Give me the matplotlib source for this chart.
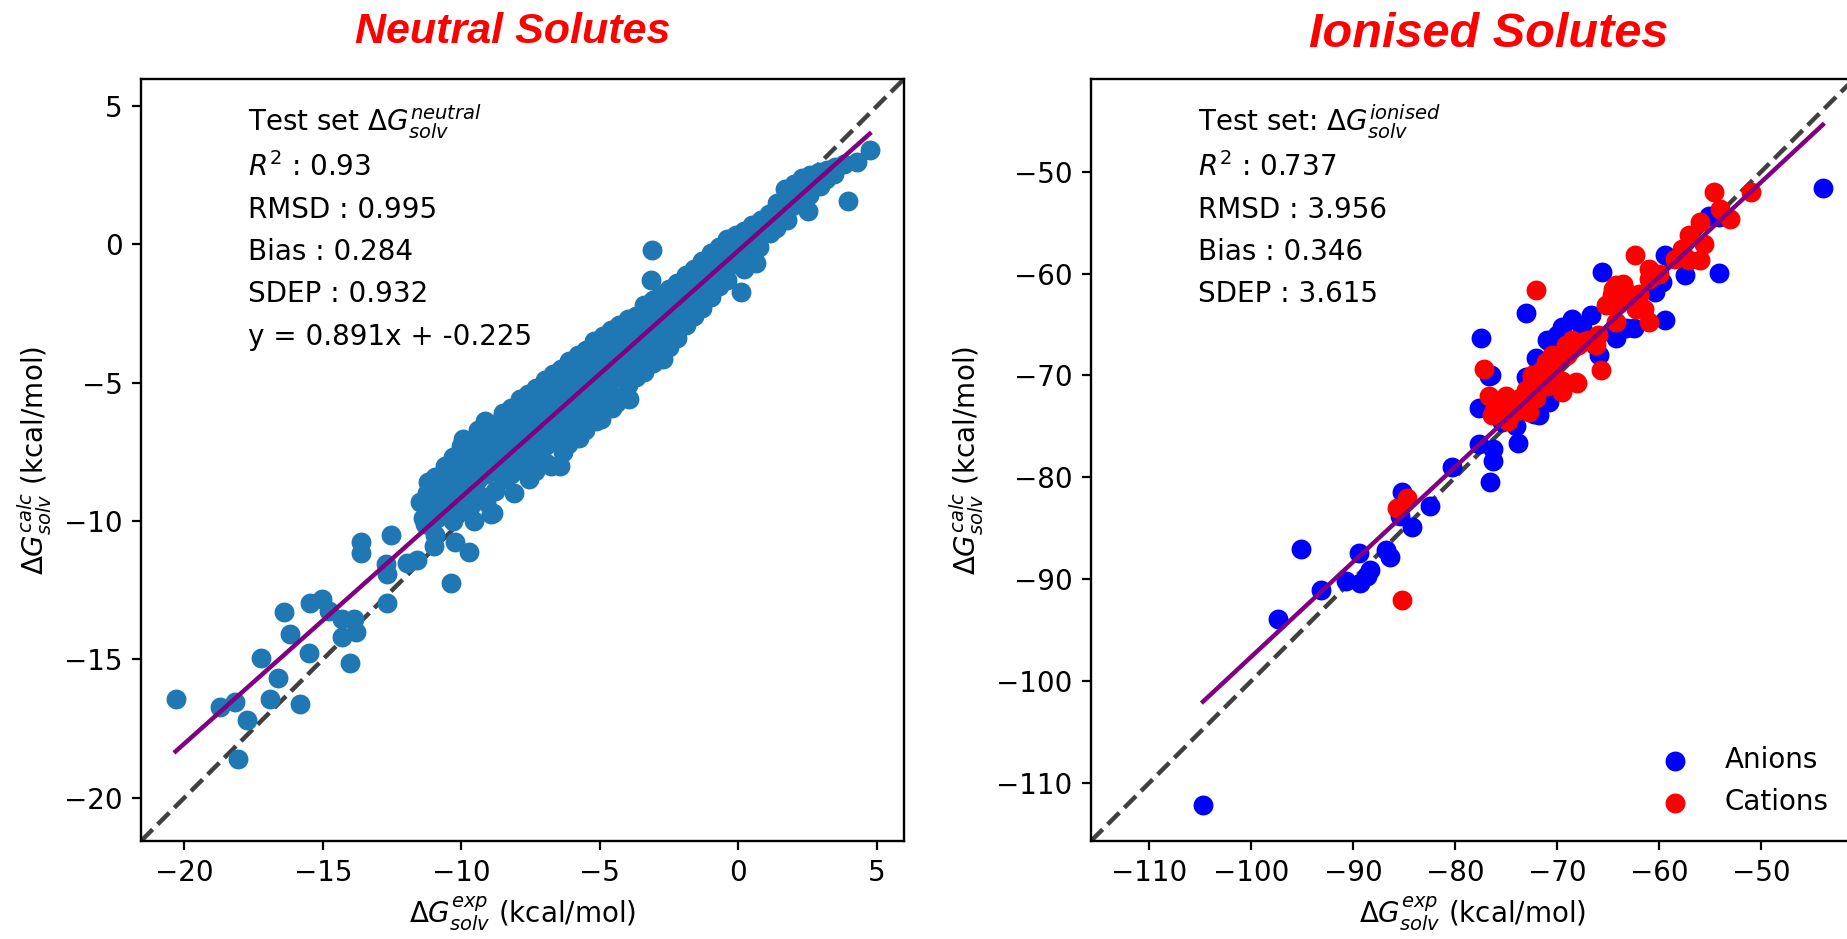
import matplotlib.pyplot as plt

# ---------------- neutral solutes ----------------
# isolated points (experimental, calculated)
neutral_exp_out = [-20.32, -18.73, -18.18, -17.73, -18.07, -17.22, -16.92, -16.61, -16.41, -16.20,
                   -15.84, -15.50, -15.48, -15.02, -14.78, -14.30, -13.88, -13.82, -14.30, -14.02,
                   -13.64, -13.64, -12.68, -12.74, -12.70, -12.53, -11.95, -11.62, -10.99, -10.39,
                   -10.23, -9.73, -8.95, -9.55, -9.16, -9.95, -8.86, -6.45, -4.41, -2.72,
                   -3.11, -3.15, 0.64, 0.10, 2.51, 3.95, 4.74, 4.29]
neutral_calc_out = [-16.42, -16.71, -16.53, -17.19, -18.59, -14.96, -16.42, -15.69, -13.29, -14.09,
                    -16.62, -14.78, -12.97, -12.83, -13.25, -13.53, -13.55, -14.03, -14.21, -15.12,
                    -10.76, -11.14, -12.97, -11.56, -11.92, -10.51, -11.53, -11.42, -10.92, -12.25,
                    -10.76, -11.12, -9.76, -10.00, -6.38, -7.05, -9.70, -8.01, -5.72, -4.15,
                    -0.20, -1.29, -0.69, -1.71, 1.21, 1.57, 3.41, 2.99]

# dense band of points along the diagonal
neutral_exp_band = [
    -11.50, -11.40,
    -11.20, -11.25, -11.15, -11.30,
    -10.95, -10.90, -10.85, -10.90, -10.95,
    -10.60, -10.65, -10.55, -10.60,
    -10.30, -10.25, -10.35, -10.30, -10.30,
    -10.00, -9.95, -10.05, -10.00, -9.95,
    -9.70, -9.75, -9.65, -9.70,
    -9.40, -9.45, -9.35, -9.40, -9.45,
    -9.10, -9.05, -9.15, -9.10, -9.10,
    -8.80, -8.85, -8.75, -8.80, -8.80,
    -8.50, -8.55, -8.45, -8.50, -8.50,
    -8.20, -8.15, -8.25, -8.20, -8.20, -8.10,
    -7.90, -7.95, -7.85, -7.90, -7.90,
    -7.60, -7.55, -7.65, -7.60, -7.60, -7.55,
    -7.30, -7.35, -7.25, -7.30, -7.30, -7.35,
    -7.00, -6.95, -7.05, -7.00, -7.00, -6.95,
    -6.70, -6.75, -6.65, -6.70, -6.70, -6.75,
    -6.40, -6.35, -6.45, -6.40, -6.40, -6.35,
    -6.10, -6.15, -6.05, -6.10, -6.10, -6.15,
    -5.80, -5.75, -5.85, -5.80, -5.80, -5.75,
    -5.50, -5.55, -5.45, -5.50, -5.50, -5.55,
    -5.20, -5.15, -5.25, -5.20, -5.20, -5.15,
    -4.90, -4.95, -4.85, -4.90, -4.90, -4.95,
    -4.60, -4.55, -4.65, -4.60, -4.60, -4.55,
    -4.30, -4.35, -4.25, -4.30, -4.30,
    -4.00, -3.95, -4.05, -4.00, -4.00, -3.95,
    -3.70, -3.75, -3.65, -3.70, -3.70,
    -3.40, -3.35, -3.45, -3.40, -3.40,
    -3.10, -3.15, -3.05, -3.10, -3.10,
    -2.80, -2.75, -2.85, -2.80, -2.80,
    -2.50, -2.55, -2.45, -2.50, -2.50,
    -2.20, -2.15, -2.25, -2.20, -2.20,
    -1.90, -1.95, -1.85, -1.90,
    -1.60, -1.55, -1.65, -1.60,
    -1.30, -1.35, -1.25, -1.30,
    -1.00, -0.95, -1.05, -1.00,
    -0.70, -0.75, -0.65, -0.70,
    -0.40, -0.35, -0.45, -0.40,
    -0.10, -0.15, -0.05,
    0.20, 0.25, 0.15, 0.20,
    0.50, 0.45, 0.55,
    0.80, 0.85, 0.75,
    1.10, 1.05, 1.15,
    1.40, 1.45, 1.35,
    1.70, 1.65, 1.75,
    2.00, 2.05, 1.95,
    2.30, 2.25, 2.35,
    2.60, 2.65, 2.55,
    2.90, 2.85, 2.95,
    3.20, 3.25, 3.15,
    3.50, 3.45,
    3.80,
]
neutral_calc_band = [
    -9.30, -9.90,
    -8.60, -9.00, -9.60, -10.10,
    -8.40, -8.90, -9.40, -9.90, -10.50,
    -8.00, -8.60, -9.20, -9.70,
    -7.70, -8.30, -8.80, -9.40, -10.00,
    -7.30, -7.90, -8.50, -9.10, -9.60,
    -7.60, -8.20, -8.80, -9.50,
    -6.70, -7.30, -7.90, -8.50, -9.00,
    -6.60, -7.10, -7.70, -8.30, -9.30,
    -6.50, -7.00, -7.60, -8.20, -8.90,
    -6.10, -6.70, -7.30, -7.90, -8.50,
    -5.90, -6.50, -7.10, -7.70, -8.30, -9.00,
    -5.60, -6.20, -6.80, -7.40, -8.00,
    -5.40, -6.00, -6.60, -7.20, -7.80, -8.50,
    -5.20, -5.80, -6.40, -7.00, -7.60, -8.20,
    -4.90, -5.50, -6.10, -6.70, -7.30, -7.90,
    -4.70, -5.30, -5.90, -6.50, -7.10, -8.00,
    -4.50, -5.10, -5.70, -6.30, -6.90, -7.50,
    -4.20, -4.80, -5.40, -6.00, -6.60, -7.20,
    -4.00, -4.60, -5.20, -5.80, -6.40, -7.00,
    -3.80, -4.40, -5.00, -5.60, -6.20, -6.70,
    -3.50, -4.10, -4.70, -5.30, -5.90, -6.40,
    -3.30, -3.90, -4.50, -5.10, -5.70, -6.30,
    -3.10, -3.70, -4.30, -4.90, -5.50, -5.90,
    -2.90, -3.50, -4.10, -4.70, -5.50,
    -2.70, -3.30, -3.90, -4.50, -5.10, -5.60,
    -2.60, -3.00, -3.60, -4.20, -4.80,
    -2.20, -2.80, -3.40, -4.00, -4.60,
    -2.00, -2.60, -3.20, -3.80, -4.30,
    -1.80, -2.40, -3.00, -3.50, -3.90,
    -1.60, -2.10, -2.70, -3.20, -3.70,
    -1.40, -1.90, -2.50, -3.00, -3.40,
    -1.10, -1.70, -2.30, -2.90,
    -0.90, -1.40, -2.00, -2.60,
    -0.60, -1.20, -1.80, -2.30,
    -0.30, -0.90, -1.40, -1.90,
    -0.10, -0.60, -1.10, -1.50,
    0.20, -0.30, -0.80, -1.30,
    0.35, -0.20, -0.70,
    0.50, 0.00, -0.50, -0.90,
    0.70, 0.20, -0.30,
    0.90, 0.40, -0.10,
    1.10, 0.70, 0.40,
    1.50, 1.00, 0.60,
    2.00, 1.40, 0.90,
    2.20, 1.80, 1.40,
    2.40, 2.00, 1.60,
    2.50, 2.20, 1.80,
    2.60, 2.40, 2.10,
    2.70, 2.50, 2.35,
    2.80, 2.55,
    2.90,
]
neutral_fit = (0.891, -0.225)
neutral_lim = (-21.57, 5.98)
neutral_ticks = [-20, -15, -10, -5, 0, 5]
neutral_text = ["Test set $\\Delta G_{solv}^{neutral}$", "$R^2$ : 0.93", "RMSD : 0.995",
                "Bias : 0.284", "SDEP : 0.932", "y = 0.891x + -0.225"]

# ---------------- ionised solutes ----------------
anion_exp = [-104.72, -97.35, -95.07, -93.20, -90.70, -89.30, -89.46, -88.31, -88.60, -86.75,
             -86.36, -85.22, -85.38, -84.24, -82.45, -80.33, -76.58, -77.65, -76.28, -76.28,
             -77.65, -76.67, -77.49, -73.08, -73.80, -75.40, -74.00, -72.30, -76.51,
             -69.50, -68.52, -66.73, -67.54, -70.48, -65.91, -72.10, -73.08, -70.80, -71.78,
             -71.00, -70.00, -66.30, -65.58, -63.30, -62.49, -64.60, -64.28, -59.39,
             -60.37, -59.71, -57.43, -54.17, -59.39, -55.15, -54.17, -43.96]
anion_calc = [-112.20, -93.93, -87.08, -91.10, -90.21, -90.37, -87.41, -89.14, -89.70, -87.18,
              -87.83, -81.47, -83.75, -84.90, -82.78, -79.02, -80.43, -76.74, -77.23, -78.37,
              -73.15, -70.06, -66.30, -63.86, -76.64, -74.60, -75.00, -73.80, -69.96,
              -65.20, -64.41, -64.09, -65.39, -67.02, -68.00, -68.33, -70.12, -72.57, -73.87,
              -66.50, -66.00, -67.00, -59.88, -65.39, -65.39, -65.72, -66.37, -64.58,
              -61.80, -60.83, -60.17, -59.91, -58.22, -54.30, -54.47, -51.63]

cation_exp = [-85.22, -85.71, -84.73, -77.16, -72.10,
              -76.70, -75.80, -75.00, -74.00, -74.80, -76.20, -73.60, -75.70, -74.70, -76.35,
              -72.50, -71.50, -70.30, -71.00, -69.50, -72.00, -70.50,
              -68.03, -65.75, -68.19, -72.43, -70.80, -69.17, -67.54, -66.24, -69.80, -71.13,
              -70.80, -69.50, -72.10, -73.08, -72.76, -73.74,
              -68.00, -67.00, -66.00, -69.00, -68.50,
              -62.33, -64.50, -63.50, -63.00, -64.00, -62.00, -61.50,
              -64.28, -63.30, -62.00, -64.60, -62.32, -61.02, -64.28, -65.26, -64.60,
              -61.02, -60.04, -61.02, -57.76, -58.41, -57.10, -55.96,
              -57.10, -55.64, -55.96, -54.00, -53.03, -54.66, -50.97]
cation_calc = [-92.00, -83.04, -82.06, -69.40, -61.60,
               -72.00, -72.80, -72.00, -73.50, -74.50, -73.50, -72.20, -73.06, -72.40, -73.87,
               -70.20, -69.50, -69.00, -71.00, -70.50, -71.50, -68.00,
               -70.70, -69.47, -70.61, -69.96, -69.63, -67.02, -66.70, -67.02, -68.00, -68.65,
               -70.94, -71.59, -72.24, -71.43, -73.55, -72.90,
               -67.00, -66.50, -66.00, -68.00, -66.50,
               -58.15, -61.50, -61.00, -62.50, -63.00, -62.00, -63.50,
               -61.15, -61.80, -62.13, -63.11, -63.43, -64.74, -64.74, -63.11, -62.13,
               -59.52, -60.01, -60.50, -57.56, -58.54, -58.71, -58.71,
               -56.26, -57.07, -54.95, -53.65, -54.63, -52.02, -52.02]
ionised_fit = (0.932, -4.42)
ionised_lim = (-115.7, -40.9)
ionised_ticks = [-110, -100, -90, -80, -70, -60, -50]
ionised_text = ["Test set: $\\Delta G_{solv}^{ionised}$", "$R^2$ : 0.737", "RMSD : 3.956",
                "Bias : 0.346", "SDEP : 3.615"]

FS = 20
MS = 205
W, H = 1847, 939
AX_H = 762
# baseline of each statistics line, in pixels below the top of the axes
line_offsets = [52, 96.5, 139, 181.5, 223.5, 266]

fig = plt.figure(figsize=(W / 100, H / 100), dpi=100)
ax1 = fig.add_axes([141 / W, 98 / H, 763 / W, AX_H / H])
ax2 = fig.add_axes([1091 / W, 98 / H, 763 / W, AX_H / H])


def style(ax, lim, ticks):
    ax.set_xlim(lim)
    ax.set_ylim(lim)
    ax.set_xticks(ticks)
    ax.set_yticks(ticks)
    ax.tick_params(labelsize=FS, length=6.8, width=1.6, pad=6.5)
    for sp in ax.spines.values():
        sp.set_linewidth(1.7)
    ax.set_xlabel("$\\Delta G_{solv}^{exp}$ (kcal/mol)", fontsize=FS, labelpad=5)
    ax.set_ylabel("$\\Delta G_{solv}^{calc}$ (kcal/mol)", fontsize=FS, labelpad=7)
    # identity line
    ax.plot(lim, lim, ls="--", color="k", alpha=0.75, lw=3.2, zorder=1)


def fit_line(ax, xs, fit):
    x0, x1 = min(xs), max(xs)
    ax.plot([x0, x1], [fit[0] * x0 + fit[1], fit[0] * x1 + fit[1]],
            color="purple", lw=3.2, zorder=4)


def stats(ax, lines):
    for line, off in zip(lines, line_offsets):
        ax.text(0.140, 1 - off / AX_H, line, transform=ax.transAxes,
                fontsize=FS, va="baseline", ha="left")


# left panel
style(ax1, neutral_lim, neutral_ticks)
all_nx = neutral_exp_out + neutral_exp_band
all_ny = neutral_calc_out + neutral_calc_band
ax1.scatter(all_nx, all_ny, s=MS, color="#1f77b4", linewidths=0, zorder=2)
fit_line(ax1, all_nx, neutral_fit)
stats(ax1, neutral_text)

# right panel
style(ax2, ionised_lim, ionised_ticks)
ax2.scatter(anion_exp, anion_calc, s=MS, color="blue", linewidths=0, zorder=2, label="Anions")
ax2.scatter(cation_exp, cation_calc, s=MS, color="red", linewidths=0, zorder=3, label="Cations")
fit_line(ax2, anion_exp + cation_exp, ionised_fit)
stats(ax2, ionised_text)
ax2.legend(loc="lower right", frameon=False, fontsize=FS)

# panel titles
fig.text(513 / W, 1 - 43 / H, "Neutral Solutes", ha="center", va="baseline",
         fontsize=31, color="red", fontweight="bold", fontstyle="italic", family="Liberation Sans")
fig.text(1489 / W, 1 - 47 / H, "Ionised Solutes", ha="center", va="baseline",
         fontsize=35, color="red", fontweight="bold", fontstyle="italic", family="Liberation Sans")

fig.savefig("out.png", dpi=100)
